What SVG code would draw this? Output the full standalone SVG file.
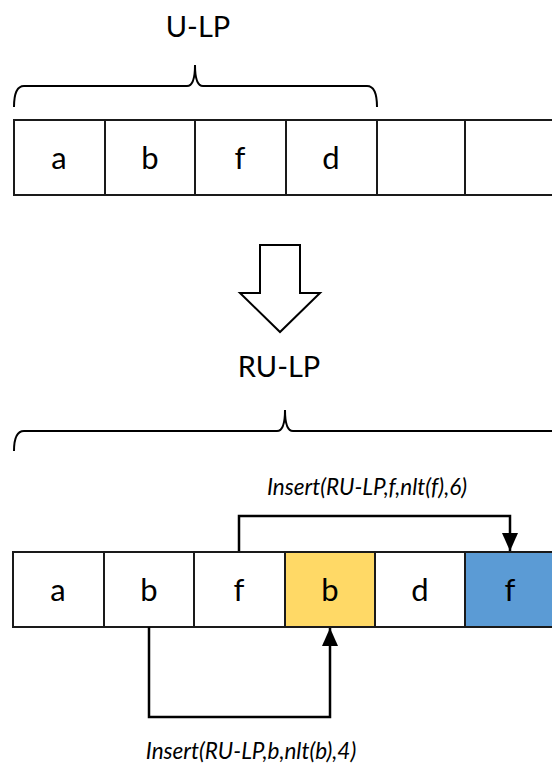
<svg xmlns="http://www.w3.org/2000/svg" width="552" height="771" viewBox="0 0 552 771">
<style>
.cell{fill:#ffffff;stroke:#1a1a1a;stroke-width:2}
.lbl{font-family:Lato,"Open Sans",sans-serif;font-size:29px;fill:#000;text-anchor:middle}
.ct{font-family:Lato,"Open Sans",sans-serif;font-size:31px;fill:#000;text-anchor:middle}
.cap{font-family:Lato,"Open Sans",sans-serif;font-size:22.5px;font-style:italic;fill:#000;text-anchor:middle}
.brace{fill:none;stroke:#000;stroke-width:2}
.conn{fill:none;stroke:#000;stroke-width:2.5}
</style>
<defs>
<marker id="ah2" viewBox="0 0 18 16" refX="18" refY="8" markerWidth="18" markerHeight="16" orient="auto" markerUnits="userSpaceOnUse">
<path d="M0,0 L18,8 L0,16 Z" fill="#000"/>
</marker>
</defs>
<rect width="552" height="771" fill="#fff"/>

<g id="label-ulp"><text class="lbl" x="198" y="37">U-LP</text></g>
<g id="brace-top"><path class="brace" d="M14,107 Q14,86 24,86 L187,86 Q195,86 195,65 Q195,86 203,86 L367,86 Q377,86 377,107"/></g>

<g id="top-row">
<g id="t1"><rect class="cell" x="14" y="120" width="91" height="75"/><text class="ct" x="59" y="169">a</text></g>
<g id="t2"><rect class="cell" x="105" y="120" width="90" height="75"/><text class="ct" x="150" y="169">b</text></g>
<g id="t3"><rect class="cell" x="195" y="120" width="91" height="75"/><text class="ct" x="240" y="169">f</text></g>
<g id="t4"><rect class="cell" x="286" y="120" width="91" height="75"/><text class="ct" x="331" y="169">d</text></g>
<g id="t5"><rect class="cell" x="377" y="120" width="88" height="75"/></g>
<g id="t6"><rect class="cell" x="465" y="120" width="100" height="75"/></g>
</g>

<g id="block-arrow"><path d="M260,245 L300,245 L300,293 L320,293 L280,332 L240,293 L260,293 Z" fill="#fff" stroke="#000" stroke-width="2"/></g>

<g id="label-rulp"><text class="lbl" x="279" y="377">RU-LP</text></g>
<g id="brace-bottom"><path class="brace" d="M14,451 Q14,431 24,431 L277,431 Q285,431 285,410 Q285,431 293,431 L560,431"/></g>

<g id="bottom-row">
<g id="b1"><rect class="cell" x="13" y="552" width="91" height="75"/><text class="ct" x="58" y="601">a</text></g>
<g id="b2"><rect class="cell" x="104" y="552" width="90" height="75"/><text class="ct" x="149" y="601">b</text></g>
<g id="b3"><rect class="cell" x="194" y="552" width="91" height="75"/><text class="ct" x="239" y="601">f</text></g>
<g id="b4"><rect class="cell" x="285" y="552" width="90" height="75" style="fill:#FFD966"/><text class="ct" x="330" y="601">b</text></g>
<g id="b5"><rect class="cell" x="375" y="552" width="90" height="75"/><text class="ct" x="420" y="601">d</text></g>
<g id="b6"><rect class="cell" x="465" y="552" width="100" height="75" style="fill:#5B9BD5"/><text class="ct" x="510" y="601">f</text></g>
</g>

<g id="connectors">
<path class="conn" d="M239,551 L239,516 L510,516 L510,551" marker-end="url(#ah2)"/>
<path class="conn" d="M149,627 L149,717 L330,717 L330,628" marker-end="url(#ah2)"/>
</g>

<g id="captions">
<text class="cap" x="367" y="495">Insert(RU-LP,f,nlt(f),6)</text>
<text class="cap" x="251" y="759">Insert(RU-LP,b,nlt(b),4)</text>
</g>
</svg>
